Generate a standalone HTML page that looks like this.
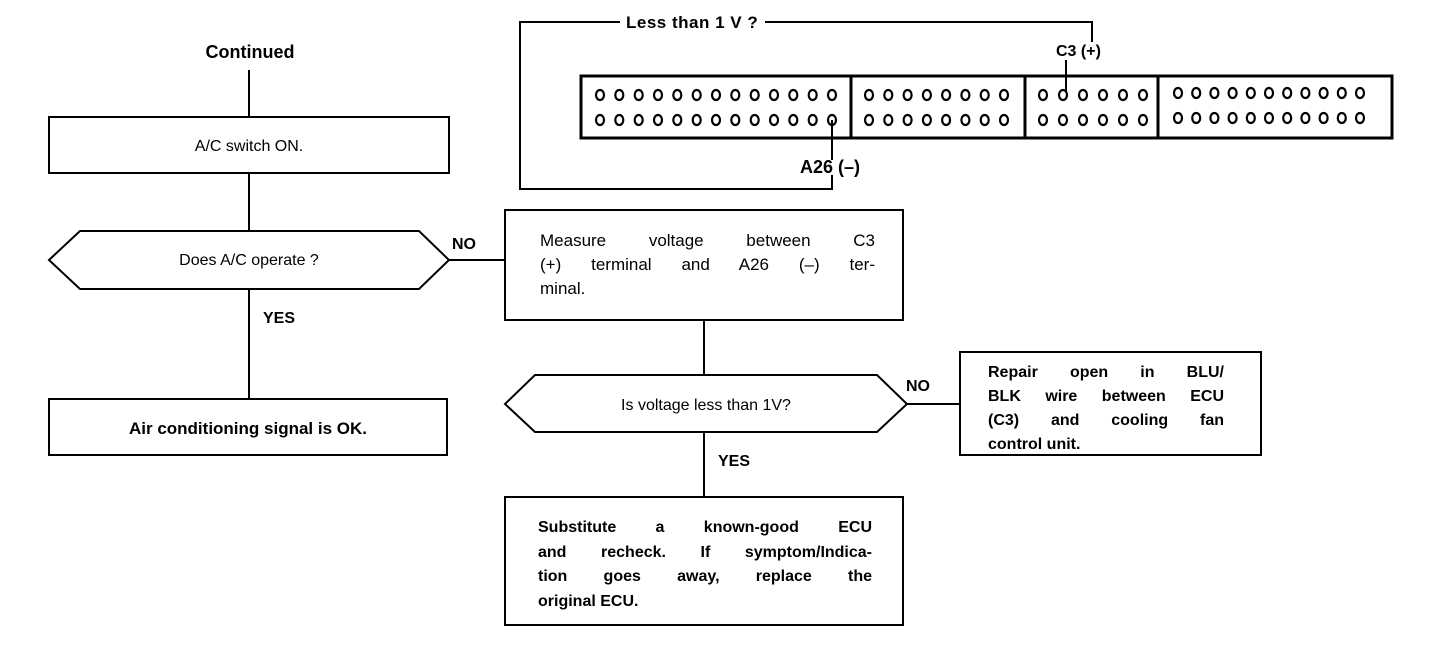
<!DOCTYPE html>
<html><head><meta charset="utf-8"><style>html,body{margin:0;padding:0;background:#fff}body{position:relative;width:1440px;height:650px;overflow:hidden}svg{display:block;position:absolute;left:0;top:0}text{font-family:"Liberation Sans",sans-serif;fill:#000}
.j{position:absolute;font-family:"Liberation Sans",sans-serif;font-size:17px;line-height:24px;color:#000}
.j span{display:block;text-align:justify;text-align-last:justify;white-space:nowrap}
.j span.l{text-align-last:left}
.b{font-weight:bold;font-size:16px}
</style></head>
<body>
<svg width="1440" height="650" viewBox="0 0 1440 650" xmlns="http://www.w3.org/2000/svg">
<g stroke="#000" fill="none" stroke-width="2">
<line x1="249" y1="70" x2="249" y2="117"/>
<rect x="49" y="117" width="400" height="56"/>
<line x1="249" y1="173" x2="249" y2="231"/>
<polygon points="49,260 80,231 419,231 449,260 419,289 80,289"/>
<line x1="449" y1="260" x2="505" y2="260"/>
<rect x="505" y="210" width="398" height="110"/>
<line x1="249" y1="289" x2="249" y2="399"/>
<rect x="49" y="399" width="398" height="56"/>
<line x1="704" y1="320" x2="704" y2="375"/>
<polygon points="505,404 535,375 877,375 907,404 877,432 535,432"/>
<line x1="907" y1="404" x2="960" y2="404"/>
<rect x="960" y="352" width="301" height="103"/>
<line x1="704" y1="432" x2="704" y2="497"/>
<rect x="505" y="497" width="398" height="128"/>
<polyline points="620,22 520,22 520,189 832,189 832,175"/>
<polyline points="765,22 1092,22 1092,42"/>
<line x1="1066" y1="60" x2="1066" y2="92"/>
<rect x="581" y="76" width="811" height="62" stroke-width="3"/>
<line x1="851" y1="76" x2="851" y2="138" stroke-width="3"/>
<line x1="1025" y1="76" x2="1025" y2="138" stroke-width="3"/>
<line x1="1158" y1="76" x2="1158" y2="138" stroke-width="3"/>
</g>
<g stroke="#000" fill="none" stroke-width="2.2">
<g><ellipse cx="600" cy="95" rx="4" ry="5"/><ellipse cx="619.3" cy="95" rx="4" ry="5"/><ellipse cx="638.7" cy="95" rx="4" ry="5"/><ellipse cx="658" cy="95" rx="4" ry="5"/><ellipse cx="677.3" cy="95" rx="4" ry="5"/><ellipse cx="696.7" cy="95" rx="4" ry="5"/><ellipse cx="716" cy="95" rx="4" ry="5"/><ellipse cx="735.3" cy="95" rx="4" ry="5"/><ellipse cx="754.7" cy="95" rx="4" ry="5"/><ellipse cx="774" cy="95" rx="4" ry="5"/><ellipse cx="793.3" cy="95" rx="4" ry="5"/><ellipse cx="812.7" cy="95" rx="4" ry="5"/><ellipse cx="832" cy="95" rx="4" ry="5"/></g>
<g><ellipse cx="600" cy="120" rx="4" ry="5"/><ellipse cx="619.3" cy="120" rx="4" ry="5"/><ellipse cx="638.7" cy="120" rx="4" ry="5"/><ellipse cx="658" cy="120" rx="4" ry="5"/><ellipse cx="677.3" cy="120" rx="4" ry="5"/><ellipse cx="696.7" cy="120" rx="4" ry="5"/><ellipse cx="716" cy="120" rx="4" ry="5"/><ellipse cx="735.3" cy="120" rx="4" ry="5"/><ellipse cx="754.7" cy="120" rx="4" ry="5"/><ellipse cx="774" cy="120" rx="4" ry="5"/><ellipse cx="793.3" cy="120" rx="4" ry="5"/><ellipse cx="812.7" cy="120" rx="4" ry="5"/><ellipse cx="832" cy="120" rx="4" ry="5"/></g>
<g><ellipse cx="869" cy="95" rx="4" ry="5"/><ellipse cx="888.3" cy="95" rx="4" ry="5"/><ellipse cx="907.6" cy="95" rx="4" ry="5"/><ellipse cx="926.9" cy="95" rx="4" ry="5"/><ellipse cx="946.1" cy="95" rx="4" ry="5"/><ellipse cx="965.4" cy="95" rx="4" ry="5"/><ellipse cx="984.7" cy="95" rx="4" ry="5"/><ellipse cx="1004" cy="95" rx="4" ry="5"/></g>
<g><ellipse cx="869" cy="120" rx="4" ry="5"/><ellipse cx="888.3" cy="120" rx="4" ry="5"/><ellipse cx="907.6" cy="120" rx="4" ry="5"/><ellipse cx="926.9" cy="120" rx="4" ry="5"/><ellipse cx="946.1" cy="120" rx="4" ry="5"/><ellipse cx="965.4" cy="120" rx="4" ry="5"/><ellipse cx="984.7" cy="120" rx="4" ry="5"/><ellipse cx="1004" cy="120" rx="4" ry="5"/></g>
<g><ellipse cx="1043" cy="95" rx="4" ry="5"/><ellipse cx="1063" cy="95" rx="4" ry="5"/><ellipse cx="1083" cy="95" rx="4" ry="5"/><ellipse cx="1103" cy="95" rx="4" ry="5"/><ellipse cx="1123" cy="95" rx="4" ry="5"/><ellipse cx="1143" cy="95" rx="4" ry="5"/></g>
<g><ellipse cx="1043" cy="120" rx="4" ry="5"/><ellipse cx="1063" cy="120" rx="4" ry="5"/><ellipse cx="1083" cy="120" rx="4" ry="5"/><ellipse cx="1103" cy="120" rx="4" ry="5"/><ellipse cx="1123" cy="120" rx="4" ry="5"/><ellipse cx="1143" cy="120" rx="4" ry="5"/></g>
<g><ellipse cx="1178" cy="93" rx="4" ry="5"/><ellipse cx="1196.2" cy="93" rx="4" ry="5"/><ellipse cx="1214.4" cy="93" rx="4" ry="5"/><ellipse cx="1232.6" cy="93" rx="4" ry="5"/><ellipse cx="1250.8" cy="93" rx="4" ry="5"/><ellipse cx="1269" cy="93" rx="4" ry="5"/><ellipse cx="1287.2" cy="93" rx="4" ry="5"/><ellipse cx="1305.4" cy="93" rx="4" ry="5"/><ellipse cx="1323.6" cy="93" rx="4" ry="5"/><ellipse cx="1341.8" cy="93" rx="4" ry="5"/><ellipse cx="1360" cy="93" rx="4" ry="5"/></g>
<g><ellipse cx="1178" cy="118" rx="4" ry="5"/><ellipse cx="1196.2" cy="118" rx="4" ry="5"/><ellipse cx="1214.4" cy="118" rx="4" ry="5"/><ellipse cx="1232.6" cy="118" rx="4" ry="5"/><ellipse cx="1250.8" cy="118" rx="4" ry="5"/><ellipse cx="1269" cy="118" rx="4" ry="5"/><ellipse cx="1287.2" cy="118" rx="4" ry="5"/><ellipse cx="1305.4" cy="118" rx="4" ry="5"/><ellipse cx="1323.6" cy="118" rx="4" ry="5"/><ellipse cx="1341.8" cy="118" rx="4" ry="5"/><ellipse cx="1360" cy="118" rx="4" ry="5"/></g>
</g>
<line x1="832" y1="120" x2="832" y2="160" stroke="#000" stroke-width="2"/>

<g font-weight="bold" font-size="16">
<text x="626" y="28" font-size="17" letter-spacing="0.5">Less than 1 V ?</text>
<text x="1056" y="56">C3 (+)</text>
<text x="800" y="173" font-size="18">A26 (–)</text>
<text x="250" y="58" text-anchor="middle" font-size="18">Continued</text>
<text x="452" y="249">NO</text>
<text x="263" y="323">YES</text>
<text x="906" y="391">NO</text>
<text x="718" y="466">YES</text>
<text x="248" y="434" text-anchor="middle" font-size="17">Air conditioning signal is OK.</text>
</g>
<g font-size="16">
<text x="249" y="151" text-anchor="middle">A/C switch ON.</text>
<text x="249" y="265" text-anchor="middle">Does A/C operate ?</text>
<text x="706" y="410" text-anchor="middle">Is voltage less than 1V?</text>
</g>
</svg>
<div class="j" style="left:540px;top:229px;width:335px"><span>Measure voltage between C3</span><span>(+) terminal and A26 (–) ter-</span><span class="l">minal.</span></div>
<div class="j b" style="left:988px;top:361px;width:236px"><span>Repair open in BLU/</span><span>BLK wire between ECU</span><span>(C3) and cooling fan</span><span class="l">control unit.</span></div>
<div class="j b" style="left:538px;top:516px;width:334px;line-height:24.5px"><span>Substitute a known-good ECU</span><span>and recheck. If symptom/Indica-</span><span>tion goes away, replace the</span><span class="l">original ECU.</span></div>
</body></html>
